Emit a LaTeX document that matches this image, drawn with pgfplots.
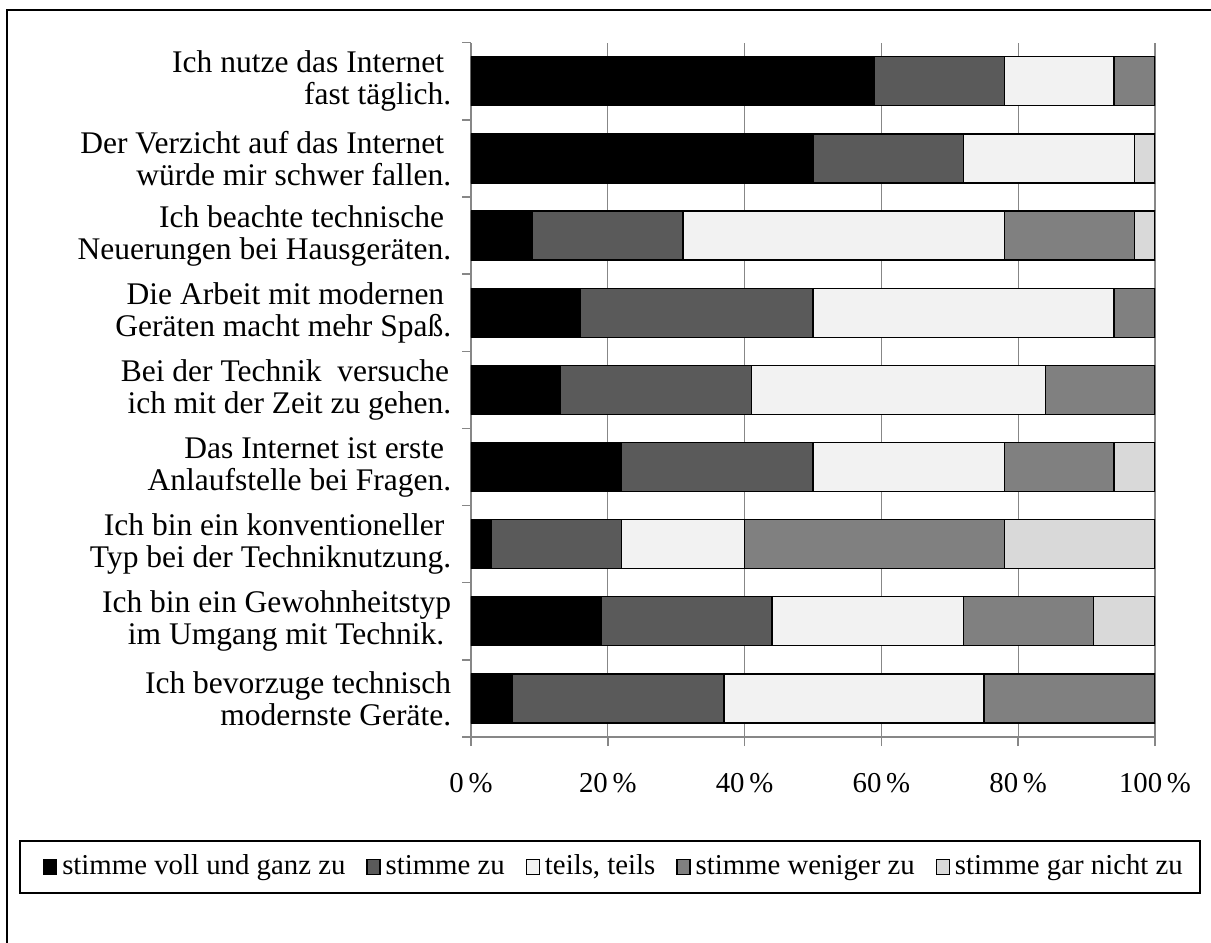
\documentclass[border=0pt]{standalone}
\usepackage{pgfplots}
\pgfplotsset{compat=1.18}
\usepackage{pgfplotstable}
\usepackage{fontspec}
\setmainfont{Liberation Serif}
\definecolor{c1}{HTML}{000000}
\definecolor{c2}{HTML}{5A5A5A}
\definecolor{c3}{HTML}{F2F2F2}
\definecolor{c4}{HTML}{808080}
\definecolor{c5}{HTML}{D9D9D9}
\definecolor{gridgray}{HTML}{878787}
\newcommand{\lf}{\fontsize{28.8}{31}\selectfont}
\newcommand{\yf}{\fontsize{31.5}{32}\selectfont}

\pgfplotstableread{
y a b c d e
9 59 19 16 6 0
8 50 22 25 0 3
7 9 22 47 19 3
6 16 34 44 6 0
5 13 28 43 16 0
4 22 28 28 16 6
3 3 19 18 38 22
2 19 25 28 19 9
1 6 31 38 25 0
}\data

\begin{document}
\lf
\begin{tikzpicture}
\path[use as bounding box] (0,0) rectangle (1211pt,-943pt);
\draw[line width=2pt] (7pt,-943pt) -- (7pt,-10pt) -- (1211pt,-10pt);
\draw[line width=2pt] (20pt,-841pt) rectangle (1200pt,-893pt);
\begin{axis}[
  at={(471pt,-737pt)}, anchor=south west,
  scale only axis, width=684pt, height=694.3pt,
  xbar stacked, bar width=49pt,
  xmin=0, xmax=100, ymin=0.5, ymax=9.5,
  axis x line*=bottom, axis y line*=left,
  x axis line style={-, gridgray, line width=1.5pt},
  y axis line style={-, gridgray, line width=1.5pt},
  tick align=outside, major tick length=9pt,
  tick style={gridgray, line width=1.5pt},
  xtick={0,20,40,60,80,100},
  xticklabels={0\,\%,20\,\%,40\,\%,60\,\%,80\,\%,100\,\%},
  xmajorgrids, grid style={gridgray, line width=1.3pt},
  ytick={0.5,1.5,2.5,3.5,4.5,5.5,6.5,7.5,8.5,9.5},
  yticklabels={},
  extra y ticks={1,2,3,4,5,6,7,8,9},
  extra y tick labels={
    {Ich bevorzuge technisch\\modernste Geräte.},
    {Ich bin ein Gewohnheitstyp\\im Umgang mit Technik.\kern7pt},
    {Ich bin ein konventioneller\kern7pt\\Typ bei der Techniknutzung.},
    {Das Internet ist erste\kern7pt\\Anlaufstelle bei Fragen.},
    {Bei der Technik\ \ versuche\kern2pt\\ich mit der Zeit zu gehen.},
    {Die Arbeit mit modernen\kern7pt\\Geräten macht mehr Spaß.},
    {Ich beachte technische\kern7pt\\Neuerungen bei Hausgeräten.},
    {Der Verzicht auf das Internet\kern7pt\\würde mir schwer fallen.},
    {Ich nutze das Internet\kern7pt\\fast täglich.}},
  extra y tick style={major tick length=0pt},
  xticklabel style={font=\lf, yshift=-18pt},
  yticklabel style={font=\yf, align=right, xshift=-10pt},
  legend columns=5,
  legend style={at={(0.209,-0.187)}, anchor=center, draw=none, fill=none,
    font=\lf, inner sep=0pt,
    /tikz/every even column/.append style={column sep=19pt},
    /tikz/every odd column/.append style={column sep=3pt}},
  legend image code/.code={\draw[#1, line width=1.2pt] (0pt,-7.5pt) rectangle (13pt,7.5pt);},
]
\addplot[fill=c1, draw=black, line width=1.3pt] table[x=a, y=y] {\data};
\addplot[fill=c2, draw=black, line width=1.3pt] table[x=b, y=y] {\data};
\addplot[fill=c3, draw=black, line width=1.3pt] table[x=c, y=y] {\data};
\addplot[fill=c4, draw=black, line width=1.3pt] table[x=d, y=y] {\data};
\addplot[fill=c5, draw=black, line width=1.3pt] table[x=e, y=y] {\data};
\legend{stimme voll und ganz zu, stimme zu, {teils, teils}, stimme weniger zu, stimme gar nicht zu}
\end{axis}
\end{tikzpicture}
\end{document}
